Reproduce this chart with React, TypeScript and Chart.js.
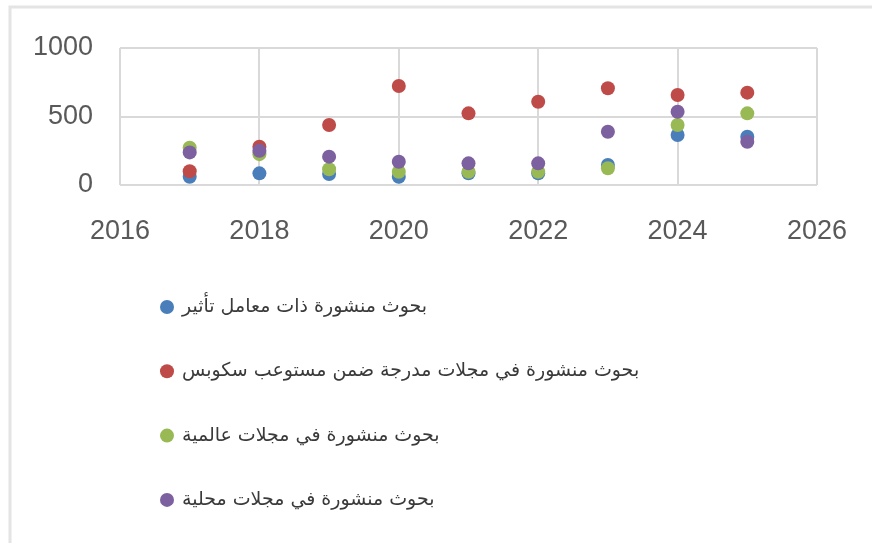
import React, { useEffect, useRef } from "react";
import { Chart, registerables } from "chart.js";

Chart.register(...registerables);

const years = [2017, 2018, 2019, 2020, 2021, 2022, 2023, 2024, 2025];
const impactFactor = [60, 85, 80, 60, 85, 85, 146, 365, 353];
const scopus = [100, 280, 438, 723, 523, 608, 706, 657, 674];
const international = [272, 225, 115, 97, 97, 97, 122, 438, 523];
const local = [238, 250, 207, 170, 158, 158, 389, 535, 316];

const seriesNames = [
  "بحوث منشورة ذات معامل تأثير",
  "بحوث منشورة في مجلات مدرجة ضمن مستوعب سكوبس",
  "بحوث منشورة في مجلات عالمية",
  "بحوث منشورة في مجلات محلية",
];
const seriesValues = [impactFactor, scopus, international, local];
const seriesColors = ["#4A7EBB", "#BE4B48", "#98B954", "#7D60A0"];

const xTicks = [2016, 2018, 2020, 2022, 2024, 2026];
const yTicks = [0, 500, 1000];

const framePlugin = {
  id: "frameAndLegend",
  beforeDraw(chart: any) {
    const ctx = chart.ctx;
    ctx.save();
    ctx.strokeStyle = "#e4e4e4";
    ctx.lineWidth = 3;
    ctx.beginPath();
    ctx.moveTo(10, chart.height);
    ctx.lineTo(10, 7);
    ctx.lineTo(chart.width, 7);
    ctx.stroke();
    ctx.restore();
  },
  afterDraw(chart: any) {
    const ctx = chart.ctx;
    ctx.save();
    const ds = chart.data.datasets;
    const x0 = 167;
    const y0 = 307;
    const gap = 64.3;
    ds.forEach((d: any, i: number) => {
      const y = y0 + i * gap;
      ctx.fillStyle = d.backgroundColor;
      ctx.beginPath();
      ctx.arc(x0, y, 7, 0, Math.PI * 2);
      ctx.fill();
      ctx.fillStyle = "#3a3a3a";
      ctx.font = '19px "DejaVu Sans"';
      ctx.textAlign = "left";
      ctx.textBaseline = "middle";
      ctx.direction = "rtl";
      ctx.fillText(d.label, x0 + 15, y);
    });
    ctx.restore();
  },
};

export default function App() {
  const ref = useRef<HTMLCanvasElement>(null);
  useEffect(() => {
    if (!ref.current) return;
    const chart = new Chart(ref.current, {
      type: "scatter",
      data: {
        datasets: seriesNames.map((name, i) => ({
          label: name,
          data: years.map((yr, j) => ({ x: yr, y: seriesValues[i][j] })),
          backgroundColor: seriesColors[i],
          borderColor: seriesColors[i],
          borderWidth: 0,
          pointRadius: 7,
          pointHoverRadius: 7,
          order: 3 - i,
        })),
      },
      options: {
        responsive: true,
        maintainAspectRatio: false,
        animation: false,
        layout: { padding: { top: 48, right: 55, bottom: 0, left: 0 } },
        plugins: {
          legend: { display: false },
          tooltip: { enabled: false },
        },
        scales: {
          x: {
            type: "linear",
            min: xTicks[0],
            max: xTicks[xTicks.length - 1],
            afterBuildTicks: (s: any) => {
              s.ticks = xTicks.map((v) => ({ value: v }));
            },
            afterFit: (s: any) => {
              s.height = 358;
              s.paddingLeft = 0;
              s.paddingRight = 0;
            },
            grid: { color: "#d9d9d9", lineWidth: 2, drawTicks: false },
            border: { display: false },
            ticks: {
              padding: 30,
              color: "#595959",
              font: { family: '"Liberation Sans", Arial, sans-serif', size: 27 },
              callback: (v: any) => String(v),
            },
          },
          y: {
            min: yTicks[0],
            max: yTicks[yTicks.length - 1],
            afterBuildTicks: (s: any) => {
              s.ticks = yTicks.map((v) => ({ value: v }));
            },
            afterFit: (s: any) => {
              s.width = 120;
              s.paddingTop = 0;
              s.paddingBottom = 0;
            },
            grid: { color: "#d9d9d9", lineWidth: 2, drawTicks: false },
            border: { display: false },
            ticks: {
              padding: 27,
              color: "#595959",
              font: { family: '"Liberation Sans", Arial, sans-serif', size: 27 },
              callback: (v: any) => String(v),
            },
          },
        },
      },
      plugins: [framePlugin],
    });
    return () => chart.destroy();
  }, []);
  return (
    <div style={{ position: "absolute", left: 0, top: 0, width: 872, height: 543, background: "#fff" }}>
      <canvas ref={ref} />
    </div>
  );
}
